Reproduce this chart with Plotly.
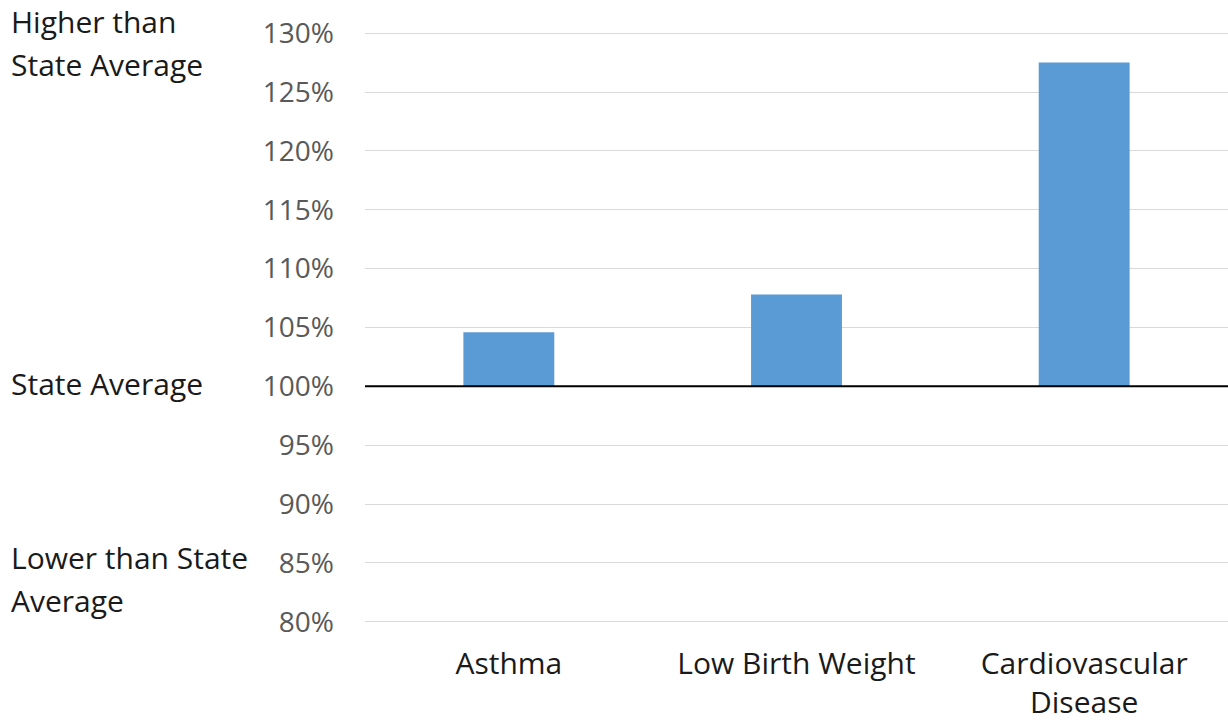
import plotly.graph_objects as go

categories = ["Asthma", "Low Birth Weight", "Cardiovascular<br>Disease"]
values_pct = [104.6, 107.8, 127.5]
state_avg = 100
tick_vals = [80, 85, 90, 95, 100, 105, 110, 115, 120, 125, 130]
tick_text = [f"{v}%" for v in tick_vals]

FONT = "Open Sans"
TXT = 30
TICK = 28

fig = go.Figure()
fig.add_trace(go.Bar(
    x=categories,
    y=[v - state_avg for v in values_pct],
    base=state_avg,
    marker=dict(color="#5b9bd5", line=dict(width=0)),
    width=0.316,
))

W, H = 1228, 723
L, R, T, B = 365, 0, 32, 100
pw = W - L - R
ph = H - T - B

def px_x(px):
    return (px - L) / pw

def px_y(py):
    return 1 - (py - T) / ph

ann_font = dict(family=FONT, size=TXT, color="#1a1a1a")
annotations = []
for text, py in [("Higher than", 21.8), ("State Average", 64.8),
                 ("Lower than State", 557.8), ("Average", 600.7),
                 ("State Average", 383.8)]:
    annotations.append(dict(x=px_x(9), xref="paper", y=px_y(py), yref="paper",
                            text=text, showarrow=False, xanchor="left", yanchor="middle",
                            font=ann_font))

fig.update_layout(
    width=W, height=H,
    margin=dict(l=L, r=R, t=T, b=B, pad=0, autoexpand=False),
    plot_bgcolor="white", paper_bgcolor="white",
    showlegend=False,
    font=dict(family=FONT, size=TXT, color="#1a1a1a"),
    annotations=annotations,
    shapes=[dict(type="line", xref="paper", x0=0, x1=1, yref="y", y0=state_avg, y1=state_avg,
                 line=dict(color="black", width=2), layer="above")],
    xaxis=dict(showgrid=False, showline=False, zeroline=False, ticks="",
               tickfont=dict(family=FONT, size=TXT, color="#1a1a1a"),
               ticklabelstandoff=20, fixedrange=True, automargin=False),
    yaxis=dict(range=[79.9, 130.1], tickmode="array", tickvals=tick_vals, ticktext=tick_text,
               showgrid=True, gridcolor="#d9d9d9", gridwidth=1,
               zeroline=False, showline=False, ticks="",
               tickfont=dict(family=FONT, size=TICK, color="#595959"),
               ticklabelstandoff=30, fixedrange=True, automargin=False),
)

fig.write_html("out.html", config={"displayModeBar": False},
               post_script="document.body.style.margin='0px';")
